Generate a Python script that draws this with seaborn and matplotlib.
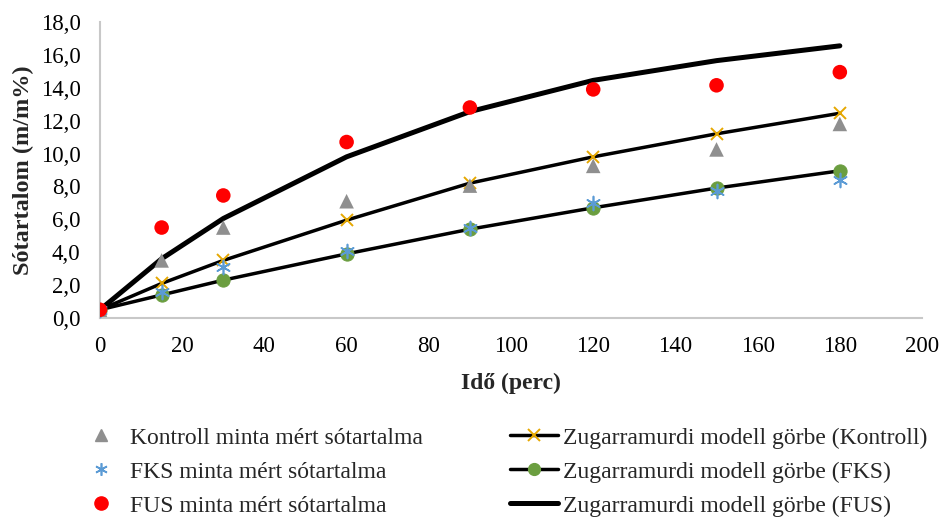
import matplotlib
matplotlib.use("Agg")
import matplotlib.pyplot as plt
import seaborn as sns
from matplotlib.lines import Line2D

# ---- data ----
time = [0, 15, 30, 60, 90, 120, 150, 180]
kontroll_meas = [0.5, 3.5, 5.5, 7.1, 8.05, 9.25, 10.25, 11.8]
fks_meas = [0.5, 1.6, 3.1, 4.1, 5.5, 7.0, 7.7, 8.4]
fus_meas = [0.5, 5.5, 7.45, 10.7, 12.8, 13.9, 14.15, 14.95]
kontroll_model = [0.5, 2.1, 3.5, 5.95, 8.2, 9.8, 11.2, 12.45]
fks_model = [0.5, 1.4, 2.3, 3.9, 5.4, 6.7, 7.9, 8.95]
fus_model = [0.5, 3.6, 6.05, 9.8, 12.55, 14.45, 15.65, 16.55]

labels_meas = ["Kontroll minta mért sótartalma",
               "FKS minta mért sótartalma",
               "FUS minta mért sótartalma"]
labels_model = ["Zugarramurdi modell görbe (Kontroll)",
                "Zugarramurdi modell görbe (FKS)",
                "Zugarramurdi modell görbe (FUS)"]
x_ticks = [0, 20, 40, 60, 80, 100, 120, 140, 160, 180, 200]
y_ticks = [0, 2, 4, 6, 8, 10, 12, 14, 16, 18]

sns.set_theme(style="white")
plt.rcParams['font.family'] = ['Liberation Serif', 'DejaVu Serif']

fig = plt.figure(figsize=(9.45, 5.2), dpi=100)
ax = fig.add_axes([0.1058, 0.3885, 0.8699, 0.5692])

# model lines
sns.lineplot(x=time, y=kontroll_model, ax=ax, color="black", lw=2.5,
             marker="x", markersize=9, markeredgecolor="#e6a800",
             markeredgewidth=1.4, zorder=2, legend=False)
sns.lineplot(x=time, y=fks_model, ax=ax, color="black", lw=2.5,
             marker="o", markersize=9.5, markerfacecolor="#6b9e40",
             markeredgecolor="#6b9e40", zorder=2, legend=False)
sns.lineplot(x=time, y=fus_model, ax=ax, color="black", lw=3.6,
             zorder=2, legend=False)
for ln in ax.lines:
    ln.set_solid_capstyle("round")
    ln.set_solid_joinstyle("round")

# measured points
sns.scatterplot(x=time, y=kontroll_meas, ax=ax, marker="^", s=110,
                color="#8f8f8f", edgecolor="none", zorder=3, legend=False)
sns.scatterplot(x=time, y=fks_meas, ax=ax, marker=(6, 2, 0), s=100,
                color="#5b9bd5", edgecolor="#5b9bd5", linewidth=1.2, zorder=3, legend=False)
sns.scatterplot(x=time, y=fus_meas, ax=ax, marker="o", s=110,
                color="#ff0000", edgecolor="none", zorder=3, legend=False)

ax.set_xlim(0, 200)
ax.set_ylim(0, 18)
ax.set_xticks(x_ticks)
ax.set_yticks(y_ticks)
ax.set_yticklabels([f"{v:.1f}".replace(".", ",") for v in y_ticks])
ax.tick_params(axis="both", labelsize=16.5, length=0, colors="black")
ax.tick_params(axis="y", pad=14)
ax.tick_params(axis="x", pad=13)
ax.set_xlabel("Idő (perc)", fontsize=17, fontweight="bold", labelpad=11)
ax.set_ylabel("Sótartalom (m/m%)", fontsize=17.5, fontweight="bold", labelpad=5)
for s in ["top", "right"]:
    ax.spines[s].set_visible(False)
for s in ["left", "bottom"]:
    ax.spines[s].set_color("#c8c8c8")
    ax.spines[s].set_linewidth(1.5)
ax.grid(False)

handles = [
    Line2D([], [], ls="none", marker="^", ms=9, color="#8f8f8f"),
    Line2D([], [], ls="none", marker=(6, 2, 0), ms=9, color="#5b9bd5", mew=1.2),
    Line2D([], [], ls="none", marker="o", ms=9.5, color="#ff0000"),
    Line2D([], [], color="black", lw=2.5, marker="x", ms=8, mec="#e6a800", mew=1.4),
    Line2D([], [], color="black", lw=2.5, marker="o", ms=8.5, mfc="#6b9e40", mec="#6b9e40"),
    Line2D([], [], color="black", lw=3.6),
]
fig.legend(handles, labels_meas + labels_model, ncol=2, loc="upper left",
           bbox_to_anchor=(0.071, 0.197), frameon=False, fontsize=17,
           numpoints=1, handlelength=2.05, handletextpad=0.2,
           columnspacing=3.7, labelspacing=0.53, borderaxespad=0)

fig.savefig("out.png", dpi=100)
